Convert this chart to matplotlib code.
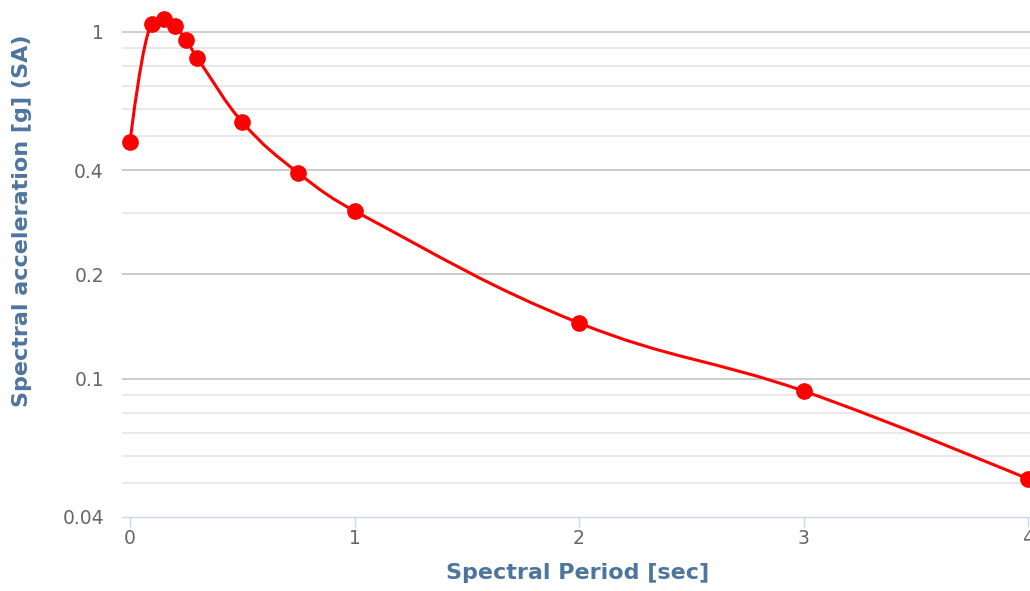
import numpy as np
import matplotlib
matplotlib.use("Agg")
import matplotlib.pyplot as plt
from matplotlib.path import Path
from matplotlib.patches import PathPatch
from matplotlib.ticker import FixedLocator, NullFormatter

# Response spectrum: period (s) vs spectral acceleration (g)
periods = [0.0, 0.1, 0.15, 0.2, 0.25, 0.3, 0.5, 0.75, 1.0, 2.0, 3.0, 4.0]
sa_values = [0.482, 1.055, 1.09, 1.04, 0.948, 0.841, 0.55, 0.392, 0.305, 0.145, 0.0923, 0.0515]

y_major = [0.04, 0.1, 0.2, 0.4, 1]
y_major_labels = ["0.04", "0.1", "0.2", "0.4", "1"]
y_minor = [0.05, 0.06, 0.07, 0.08, 0.09, 0.3, 0.5, 0.6, 0.7, 0.8, 0.9]
x_ticks = [0, 1, 2, 3, 4]

LINE_RED = "#ff0000"
TITLE_BLUE = "#4d759e"
TICK_GREY = "#666666"


def spline_path(xs, ys, smoothing=1.5):
    """Cubic Bezier path through the points (x, log10 y) with smoothed tangents."""
    ly = np.log10(ys)
    n = len(xs)
    denom = smoothing + 1
    right_c = [None] * n
    left_c = [None] * n
    for i in range(1, n - 1):
        px, py = xs[i], ly[i]
        lx, lyy = xs[i - 1], ly[i - 1]
        nx, ny = xs[i + 1], ly[i + 1]
        lcx = (smoothing * px + lx) / denom
        lcy = (smoothing * py + lyy) / denom
        rcx = (smoothing * px + nx) / denom
        rcy = (smoothing * py + ny) / denom
        corr = 0.0
        if rcx != lcx:
            corr = (rcy - lcy) * (rcx - px) / (rcx - lcx) + py - rcy
        lcy += corr
        rcy += corr
        if lcy > lyy and lcy > py:
            lcy = max(lyy, py)
            rcy = 2 * py - lcy
        elif lcy < lyy and lcy < py:
            lcy = min(lyy, py)
            rcy = 2 * py - lcy
        if rcy > ny and rcy > py:
            rcy = max(ny, py)
            lcy = 2 * py - rcy
        elif rcy < ny and rcy < py:
            rcy = min(ny, py)
            lcy = 2 * py - rcy
        left_c[i] = (lcx, lcy)
        right_c[i] = (rcx, rcy)
    verts = [(xs[0], ly[0])]
    codes = [Path.MOVETO]
    for i in range(1, n):
        c1 = right_c[i - 1] if right_c[i - 1] is not None else (xs[i - 1], ly[i - 1])
        c2 = left_c[i] if left_c[i] is not None else (xs[i], ly[i])
        verts += [c1, c2, (xs[i], ly[i])]
        codes += [Path.CURVE4] * 3
    verts = [(vx, 10 ** vy) for vx, vy in verts]
    return Path(verts, codes)


fig = plt.figure(figsize=(10.30, 5.91), dpi=100)
ax = fig.add_axes([122 / 1030, (591 - 517) / 591, 908 / 1030, 517 / 591])
ax.set_yscale("log")
ax.set_ylim(0.04, 10 ** (32 / 347))
ax.set_xlim(-8 / 224.5, 4 + 2 / 224.5)

for s in ["top", "right", "left"]:
    ax.spines[s].set_visible(False)
ax.spines["bottom"].set_color("#ccd6eb")
ax.spines["bottom"].set_linewidth(1.0)

# horizontal grid
for v in y_minor:
    ax.axhline(v, color="#e6e6e6", lw=1.3, zorder=0)
for v in y_major[1:]:
    ax.axhline(v, color="#c8c8c8", lw=1.3, zorder=0)

ax.yaxis.set_major_locator(FixedLocator(y_major))
ax.set_yticklabels(y_major_labels)
ax.yaxis.set_minor_locator(FixedLocator(y_minor))
ax.yaxis.set_minor_formatter(NullFormatter())
ax.tick_params(axis="y", which="both", length=0, pad=13, labelsize=13.5, labelcolor=TICK_GREY)

ax.set_xticks(x_ticks)
ax.set_xticklabels([str(t) for t in x_ticks])
ax.tick_params(axis="x", length=7, width=1, color="#ccd6eb", pad=2,
               labelsize=13.5, labelcolor=TICK_GREY)

path = spline_path(periods, sa_values)
ax.add_patch(PathPatch(path, facecolor="none", edgecolor=LINE_RED, lw=2.2,
                       zorder=3, clip_on=False))
ax.plot(periods, sa_values, linestyle="none", marker="o", markersize=11,
        color=LINE_RED, zorder=4, clip_on=False)

fig.text(578 / 1030, 1 - 573 / 591, "Spectral Period [sec]", ha="center", va="center",
         fontsize=16, fontweight="bold", color=TITLE_BLUE)
fig.text(22 / 1030, 1 - 221 / 591, "Spectral acceleration [g] (SA)", ha="center",
         va="center", rotation=90, fontsize=16, fontweight="bold", color=TITLE_BLUE)

fig.savefig("out.png", dpi=100)
